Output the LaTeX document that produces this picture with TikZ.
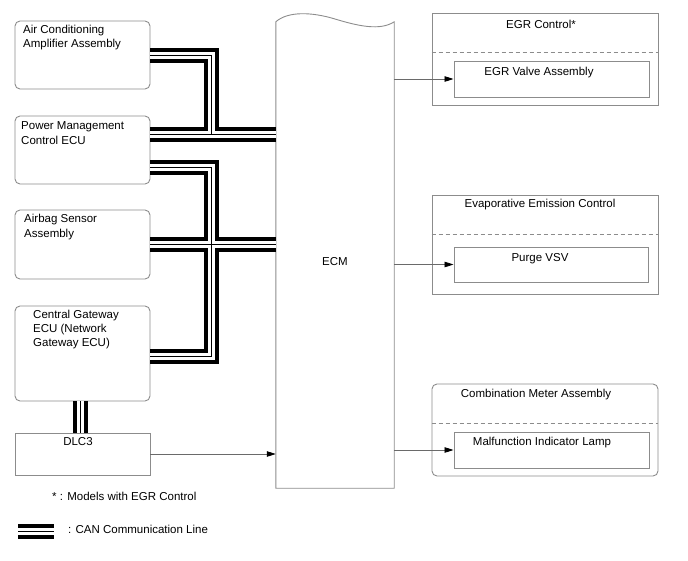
\documentclass[tikz,border=0pt]{standalone}
\usepackage{fontspec}
\setmainfont{Liberation Sans}
\usetikzlibrary{arrows.meta}
\definecolor{boxgray}{HTML}{8C8C8C}
\definecolor{wiregray}{HTML}{6A6A6A}
\tikzset{
  every picture/.style={line cap=butt, line join=miter, font=\fontsize{11.5}{14.3}\selectfont},
  % ECUs on the left (rounded) and parts on the right
  unit/.style={draw=boxgray, line width=0.9pt, rounded corners=5pt, minimum width=135pt, inner sep=0pt},
  part/.style={draw=boxgray, line width=0.9pt, inner sep=0pt},
  txt/.style={inner sep=0pt, align=left},
  divider/.style={draw=boxgray, dash pattern=on 4pt off 3pt, line width=0.8pt},
  sig/.style={draw=wiregray, line width=0.8pt, -{Triangle[length=9pt, width=5.5pt, black]}},
  % CAN line: two heavy rails with a thin core line between them
  can/.style={draw=white, line width=7pt,
    preaction={draw=black, line width=15pt},
    postaction={draw=black, line width=0.9pt}},
}

\begin{document}
\begin{tikzpicture}[x=1pt, y=-1pt]
  \useasboundingbox (0,0) rectangle (688,560);
  % left column (multi-line labels sit on their last baseline)
  \node[unit, minimum height=68pt] (ac) at (82.5,55) {};
  \node[unit, minimum height=68pt] (pm) at (82.5,150) {};
  \node[unit, minimum height=69pt] (airbag) at (82.5,244.5) {};
  \node[unit, minimum height=95pt] (cgw) at (82.5,353.5) {};
  \node[unit, sharp corners, minimum height=42pt] (dlc) at (82.5,454) {};
  \node[txt, anchor=base west] (aclbl) at (23,47.7) {Air Conditioning\\Amplifier Assembly};
  \node[txt, anchor=base west] (pmlbl) at (21,144) {Power Management\\Control ECU};
  \node[txt, anchor=base west] (airbaglbl) at (24,237) {Airbag Sensor\\Assembly};
  \node[txt, anchor=base west] (cgwlbl) at (33,346.7) {Central Gateway\\ECU (Network\\Gateway ECU)};
  \node[txt, anchor=base] (dlclbl) at (78,445.5) {DLC3};

  % ECM with torn top edge
  \node[inner sep=0pt, minimum width=118pt, minimum height=466pt] (ecm) at (335,255) {};
  \draw[draw=boxgray, line width=0.9pt] (ecm.south west) -- (ecm.north west)
    .. controls (288,11) and (312,12) .. (335,19)
    .. controls (358,26) and (380,31) .. (ecm.north east) -- (ecm.south east) -- cycle;
  \node (ecmlbl) at (335,262) {ECM};

  % right column
  \node[part, minimum width=226pt, minimum height=92pt] (egr) at (545,59) {};
  \node[part, minimum width=195pt, minimum height=36pt] (egrvalve) at (551.5,79) {};
  \draw[divider] ([yshift=-40pt]egr.north west) -- ([yshift=-40pt]egr.north east);
  \node[txt, anchor=base] (egrlbl) at (541,28) {EGR Control*};
  \node[txt, anchor=base] (valvelbl) at (539,75) {EGR Valve Assembly};

  \node[part, minimum width=226pt, minimum height=99pt] (evap) at (545,244.5) {};
  \node[part, minimum width=194pt, minimum height=35pt] (purge) at (551,264.5) {};
  \draw[divider] ([yshift=-40pt]evap.north west) -- ([yshift=-40pt]evap.north east);
  \node[txt, anchor=base] (evaplbl) at (540,207.5) {Evaporative Emission Control};
  \node[txt, anchor=base] (purgelbl) at (540,261.5) {Purge VSV};

  \node[part, rounded corners=5pt, minimum width=226pt, minimum height=92pt] (meter) at (545,430) {};
  \node[part, minimum width=195pt, minimum height=36pt] (mil) at (551.5,450) {};
  \draw[divider] ([yshift=-40pt]meter.north west) -- ([yshift=-40pt]meter.north east);
  \node[txt, anchor=base] (meterlbl) at (536,397.5) {Combination Meter Assembly};
  \node[txt, anchor=base] (millbl) at (542,445) {Malfunction Indicator Lamp};

  % signal lines
  \draw[sig] (ecm.east |- egrvalve.west) -- (egrvalve.west);
  \draw[sig] (ecm.east |- purge.west) -- (purge.west);
  \draw[sig] (ecm.east |- mil.west) -- (mil.west);
  \draw[sig] (dlc.east) -- (ecm.west |- dlc.east);

  % CAN bus
  \coordinate (tapA) at (211,134);
  \coordinate (tapB) at (211,167);
  \coordinate (tapC) at (211,356);
  \coordinate (dlcbus) at (80.5,417);
  \draw[can] (ac.east) -| (tapA)
             (pm.east |- tapA) -- (ecm.west |- tapA)
             (pm.east |- tapB) -- (tapB) -- (tapC) -- (cgw.east |- tapC)
             (airbag.east) -- (ecm.west |- airbag.east)
             (cgw.south -| dlcbus) -- (dlc.north -| dlcbus);

  % legend
  \node[txt, anchor=base west] (notelbl) at (52,500.5) {* : Models with EGR Control};
  \coordinate (keyA) at (18,531);
  \coordinate (keyB) at (54,531);
  \draw[can] (keyA) -- (keyB);
  \node[txt, anchor=base west] (keylbl) at (68,533.5) {: CAN Communication Line};
\end{tikzpicture}
\end{document}
